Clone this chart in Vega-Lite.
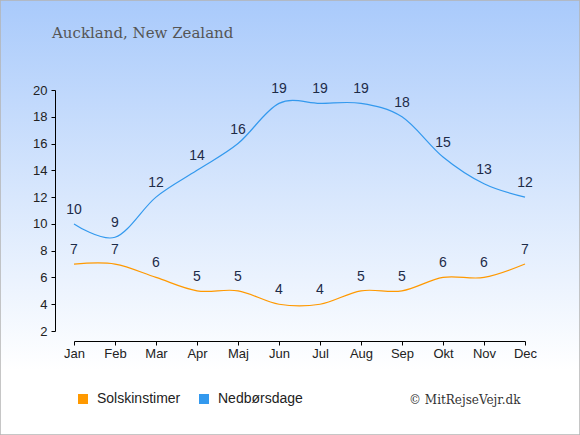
{
  "$schema": "https://vega.github.io/schema/vega-lite/v6.json",
  "width": 580,
  "height": 435,
  "autosize": {"type": "none"},
  "padding": 0,
  "background": "white",
  "title": {
    "text": "Auckland, New Zealand",
    "anchor": "start",
    "frame": "group",
    "font": "DejaVu Serif",
    "fontSize": 15,
    "fontWeight": "normal",
    "color": "#555555",
    "baseline": "alphabetic",
    "offset": 0,
    "dx": 52,
    "dy": 53
  },
  "data": {
    "values": [
      {"month": "Jan", "series": "Solskinstimer", "value": 7},
      {"month": "Feb", "series": "Solskinstimer", "value": 7},
      {"month": "Mar", "series": "Solskinstimer", "value": 6},
      {"month": "Apr", "series": "Solskinstimer", "value": 5},
      {"month": "Maj", "series": "Solskinstimer", "value": 5},
      {"month": "Jun", "series": "Solskinstimer", "value": 4},
      {"month": "Jul", "series": "Solskinstimer", "value": 4},
      {"month": "Aug", "series": "Solskinstimer", "value": 5},
      {"month": "Sep", "series": "Solskinstimer", "value": 5},
      {"month": "Okt", "series": "Solskinstimer", "value": 6},
      {"month": "Nov", "series": "Solskinstimer", "value": 6},
      {"month": "Dec", "series": "Solskinstimer", "value": 7},
      {"month": "Jan", "series": "Nedbørsdage", "value": 10},
      {"month": "Feb", "series": "Nedbørsdage", "value": 9},
      {"month": "Mar", "series": "Nedbørsdage", "value": 12},
      {"month": "Apr", "series": "Nedbørsdage", "value": 14},
      {"month": "Maj", "series": "Nedbørsdage", "value": 16},
      {"month": "Jun", "series": "Nedbørsdage", "value": 19},
      {"month": "Jul", "series": "Nedbørsdage", "value": 19},
      {"month": "Aug", "series": "Nedbørsdage", "value": 19},
      {"month": "Sep", "series": "Nedbørsdage", "value": 18},
      {"month": "Okt", "series": "Nedbørsdage", "value": 15},
      {"month": "Nov", "series": "Nedbørsdage", "value": 13},
      {"month": "Dec", "series": "Nedbørsdage", "value": 12}
    ]
  },
  "encoding": {
    "x": {
      "field": "month",
      "type": "ordinal",
      "sort": ["Jan", "Feb", "Mar", "Apr", "Maj", "Jun", "Jul", "Aug", "Sep", "Okt", "Nov", "Dec"],
      "scale": {"type": "point", "range": [74, 525], "padding": 0},
      "axis": {
        "orient": "bottom",
        "offset": -94,
        "labelAngle": 0,
        "grid": false,
        "domainColor": "#000000",
        "tickColor": "#000000",
        "tickSize": 4,
        "labelPadding": 2,
        "labelFont": "Liberation Sans",
        "labelFontSize": 13,
        "labelColor": "#222222",
        "title": "© MitRejseVejr.dk",
        "titleFont": "DejaVu Serif",
        "titleFontSize": 12,
        "titleFontWeight": "normal",
        "titleColor": "#333333",
        "titleAlign": "right",
        "titleAnchor": null,
        "titleBaseline": "alphabetic",
        "titleX": 520,
        "titleY": 62
      }
    },
    "y": {
      "field": "value",
      "type": "quantitative",
      "scale": {"domain": [2, 20], "range": [331, 90], "nice": false, "zero": false},
      "axis": {
        "orient": "left",
        "offset": -55,
        "values": [2, 4, 6, 8, 10, 12, 14, 16, 18, 20],
        "grid": false,
        "domainColor": "#000000",
        "tickColor": "#000000",
        "tickSize": 4,
        "labelPadding": 4,
        "labelFont": "Liberation Sans",
        "labelFontSize": 13,
        "labelColor": "#222222",
        "title": null
      }
    }
  },
  "layer": [
    {
      "mark": {"type": "line", "interpolate": "cardinal", "strokeWidth": 1.2},
      "encoding": {
        "color": {
          "field": "series",
          "type": "nominal",
          "scale": {"domain": ["Solskinstimer", "Nedbørsdage"], "range": ["#ff9900", "#3399ee"]},
          "legend": {
            "title": null,
            "orient": "none",
            "legendX": 76,
            "legendY": 392,
            "direction": "horizontal",
            "symbolType": "square",
            "symbolSize": 100,
            "symbolStrokeWidth": 0,
            "labelFont": "Liberation Sans",
            "labelFontSize": 14,
            "labelColor": "#222222",
            "labelOffset": 7,
            "columnPadding": 16,
            "encode": {
              "symbols": {
                "update": {
                  "fill": {"scale": "color", "field": "value"},
                  "fillOpacity": {"value": 1}
                }
              }
            }
          }
        }
      }
    },
    {
      "mark": {
        "type": "text",
        "dy": -14,
        "baseline": "middle",
        "font": "Liberation Sans",
        "fontSize": 14,
        "color": "#1d2b48"
      },
      "encoding": {"text": {"field": "value", "type": "quantitative"}}
    }
  ],
  "config": {
    "view": {
      "stroke": "#b4b4b4",
      "strokeWidth": 1.5,
      "fill": {
        "gradient": "linear",
        "x1": 0, "y1": 0, "x2": 0, "y2": 1,
        "stops": [
          {"offset": 0, "color": "#a9cafb"},
          {"offset": 0.45, "color": "#d8e7fd"},
          {"offset": 0.85, "color": "#ffffff"},
          {"offset": 1, "color": "#ffffff"}
        ]
      }
    }
  }
}
